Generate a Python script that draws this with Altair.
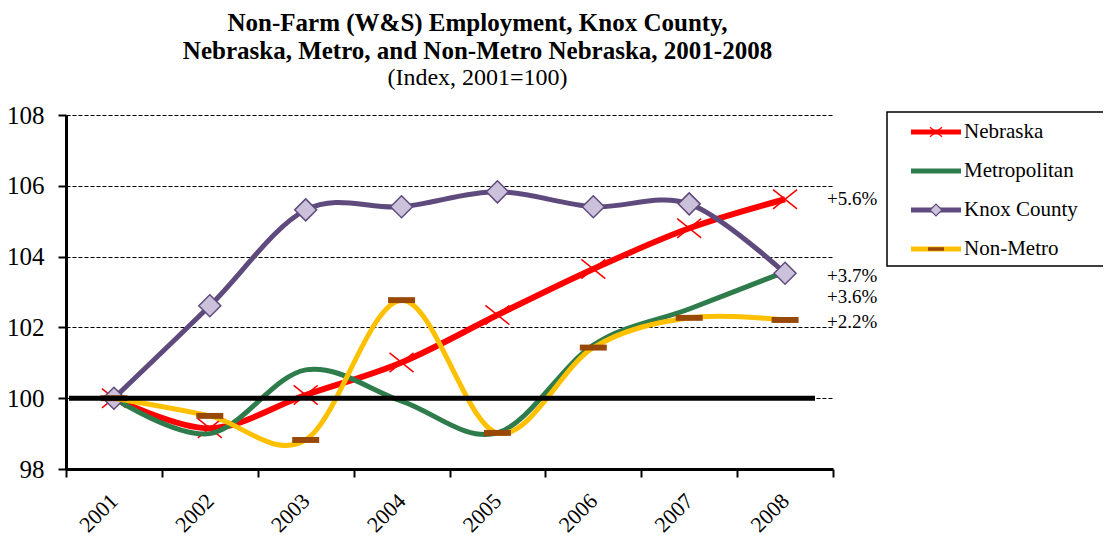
import altair as alt
import pandas as pd

# ---------------- data ----------------
years = ["2001", "2002", "2003", "2004", "2005", "2006", "2007", "2008"]
nebraska = [100.0, 99.15, 100.09, 101.01, 102.35, 103.65, 104.80, 105.62]
metro = [100.0, 99.00, 100.80, 99.92, 99.02, 101.50, 102.52, 103.57]
knox = [100.0, 102.61, 105.32, 105.41, 105.83, 105.41, 105.49, 103.53]
nonmetro = [100.0, 99.50, 98.82, 102.77, 99.02, 101.43, 102.27, 102.21]

series_names = ["Nebraska", "Metropolitan", "Knox County", "Non-Metro"]
series_values = [nebraska, metro, knox, nonmetro]

label_texts = ["+5.6%", "+3.7%", "+3.6%", "+2.2%"]
label_values = [105.63, 103.45, 102.86, 102.15]

y_ticks = [98, 100, 102, 104, 106, 108]

# ---------------- styles ----------------
FONT = "Liberation Serif"
RED = "#FF0000"
GREEN = "#2E7B4C"
PURPLE = "#5F4A7D"
LAVENDER = "#CCC1DA"
YELLOW = "#FFC000"
BROWN = "#984807"
X_PATH = "M-1,-0.8L1,0.8M-1,0.8L1,-0.8"
BAR_PATH = "M-1,-0.22L1,-0.22L1,0.22L-1,0.22Z"

rows = []
for name, vals in zip(series_names, series_values):
    for yr, v in zip(years, vals):
        rows.append({"series": name, "year": yr, "value": v})
df = pd.DataFrame(rows)

x_enc = alt.X(
    "year:N",
    scale=alt.Scale(type="band", domain=years, paddingInner=0, paddingOuter=0),
    axis=alt.Axis(
        title=None, tickBand="extent", labelAngle=-45, labelAlign="right",
        labelBaseline="middle", labelPadding=20, labelFont=FONT, labelFontSize=22,
        labelColor="black", domainColor="black", domainWidth=3, tickColor="black",
        tickWidth=2, tickSize=8, grid=False,
    ),
)
y_enc = alt.Y(
    "value:Q",
    scale=alt.Scale(domain=[98, 108], nice=False, zero=False),
    axis=alt.Axis(
        title=None, values=y_ticks, labelFont=FONT, labelFontSize=25,
        labelColor="black", labelPadding=14, domainColor="black", domainWidth=3,
        tickColor="black", tickWidth=2, tickSize=8, grid=True, gridColor="black",
        gridDash=[4, 2], gridWidth=1, gridOpacity=1,
    ),
)

def sdata(name):
    return df[df["series"] == name]

def base_line(name, color, w):
    return alt.Chart(sdata(name)).mark_line(
        interpolate="cardinal", color=color, strokeWidth=w
    ).encode(x=x_enc, y=y_enc)

neb_line = base_line("Nebraska", RED, 6)
neb_pts = alt.Chart(sdata("Nebraska")).mark_point(
    shape=X_PATH, filled=False, stroke=RED, strokeWidth=1.5, size=576, opacity=1
).encode(x=x_enc, y=y_enc)

met_line = base_line("Metropolitan", GREEN, 5)

knox_line = base_line("Knox County", PURPLE, 5)
knox_pts = alt.Chart(sdata("Knox County")).mark_point(
    shape="diamond", filled=True, fill=LAVENDER, stroke=PURPLE, strokeWidth=1.5,
    size=484, opacity=1
).encode(x=x_enc, y=y_enc)

non_line = base_line("Non-Metro", YELLOW, 5)
non_pts = alt.Chart(sdata("Non-Metro")).mark_point(
    shape=BAR_PATH, filled=True, fill=BROWN, strokeWidth=0, size=729, opacity=1
).encode(x=x_enc, y=y_enc)

baseline = alt.Chart(pd.DataFrame({"value": [100]})).mark_rule(
    color="black", strokeWidth=5
).encode(y=y_enc, x=alt.value(3), x2=alt.value(749))

ann = alt.Chart(pd.DataFrame({"year": ["2008"] * 4, "value": label_values, "t": label_texts})).mark_text(
    align="left", baseline="middle", dx=42, font=FONT, fontSize=19, color="black"
).encode(x=x_enc, y=y_enc, text="t:N")

main = alt.layer(neb_line, neb_pts, met_line, knox_line, knox_pts, non_line, non_pts, baseline, ann)

# ---------------- legend (own scales) ----------------
leg_df = pd.DataFrame({"name": series_names, "row": list(range(len(series_names)))})
lx = alt.Scale(domain=[0, 1], range=[845, 895])
ly = alt.Scale(domain=[0, 3], range=[17, 134])
leg_y = alt.Y("row:Q", scale=ly, axis=None)

def leg_rule(name, color, w):
    return alt.Chart(leg_df[leg_df["name"] == name]).mark_rule(color=color, strokeWidth=w).encode(
        x=alt.XDatum(0, type="quantitative", scale=lx, axis=None),
        x2=alt.X2Datum(1),
        y=leg_y,
    )

def leg_pt(name, **kw):
    return alt.Chart(leg_df[leg_df["name"] == name]).mark_point(opacity=1, **kw).encode(
        x=alt.XDatum(0.5, type="quantitative", scale=lx, axis=None), y=leg_y
    )

leg_box = alt.Chart(alt.Data(values=[{}])).mark_rect(
    fill="white", stroke="black", strokeWidth=1.5
).encode(x=alt.value(821), x2=alt.value(1060), y=alt.value(-3), y2=alt.value(151))

leg_text = alt.Chart(leg_df).mark_text(
    align="left", baseline="middle", dx=3, font=FONT, fontSize=21, color="black"
).encode(x=alt.XDatum(1, type="quantitative", scale=lx, axis=None), y=leg_y, text="name:N")

legend = alt.layer(
    leg_box,
    leg_rule("Nebraska", RED, 5),
    leg_pt("Nebraska", shape=X_PATH, filled=False, stroke=RED, strokeWidth=1.2, size=144),
    leg_rule("Metropolitan", GREEN, 5),
    leg_rule("Knox County", PURPLE, 5),
    leg_pt("Knox County", shape="diamond", filled=True, fill=LAVENDER, stroke=PURPLE,
           strokeWidth=1.2, size=144),
    leg_rule("Non-Metro", YELLOW, 5),
    leg_pt("Non-Metro", shape=BAR_PATH, filled=True, fill=BROWN, strokeWidth=0, size=256),
    leg_text,
)

chart = alt.layer(main, legend).resolve_scale(x="independent", y="independent").properties(
    width=767,
    height=354,
    autosize=alt.AutoSizeParams(type="none"),
    padding={"left": 58, "top": 107, "right": 270, "bottom": 67},
    title=alt.TitleParams(
        text=["Non-Farm (W&S) Employment, Knox County,",
              "Nebraska, Metro, and Non-Metro Nebraska, 2001-2008"],
        subtitle="(Index, 2001=100)",
        font=FONT, fontSize=25, fontWeight="bold", color="black", lineHeight=28,
        subtitleFont=FONT, subtitleFontSize=24, subtitleColor="black", subtitlePadding=2,
        anchor="middle", frame="group", dx=28, offset=13,
    ),
).configure(background="white", font=FONT).configure_view(stroke=None).configure_axis(
    labelFont=FONT
).configure_title(font=FONT, subtitleFont=FONT)

chart.save("out.html", embed_options={"renderer": "svg", "actions": False})
